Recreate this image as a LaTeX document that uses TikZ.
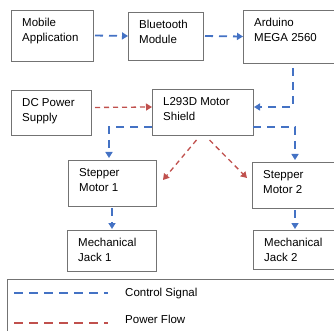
\documentclass[tikz,border=0pt]{standalone}
\usepackage{fontspec}
\setmainfont{Liberation Sans}
\usetikzlibrary{arrows.meta}
\definecolor{ctrlblue}{RGB}{68,114,196}
\definecolor{pwrred}{RGB}{192,80,77}
\tikzset{
	blk/.style = {draw = black!55, line width = 0.8pt, inner sep = 0pt, outer sep = 0pt, anchor = north west},
	txt/.style = {anchor = north west, align = left, inner sep = 0pt, xshift = 11pt, yshift = -8pt, font = \fontsize{11.5}{15}\selectfont},
	lgd/.style = {anchor = west, inner sep = 0pt, font = \fontsize{11.5}{15}\selectfont},
	ctrl/.style = {ctrlblue, line width = 1.8pt, dash pattern = on 8pt off 6pt, -{Triangle[length=6pt,width=7pt]}},
	pwr/.style = {pwrred, line width = 1.3pt, dash pattern = on 5pt off 4pt, -{Triangle[length=6pt,width=7pt]}}
}
\begin{document}
\begin{tikzpicture} [x = 1pt, y = -1pt]
	\clip (0,0) rectangle (334,331);
	% blocks
	\node[blk, minimum width = 82, minimum height = 51, label = {[txt]north west:Mobile\\Application}] (mob) at (11,10) {};
	\node[blk, minimum width = 75, minimum height = 48, label = {[txt]north west:Bluetooth\\Module}] (bt) at (128,12) {};
	\node[blk, minimum width = 100, minimum height = 53, label = {[txt]north west:Arduino\\MEGA 2560}] (ard) at (243,10) {};
	\node[blk, minimum width = 80, minimum height = 45, label = {[txt]north west:DC Power\\Supply}] (dc) at (11,90) {};
	\node[blk, minimum width = 101, minimum height = 46, label = {[txt]north west:L293D Motor\\Shield}] (shield) at (152,89) {};
	\node[blk, minimum width = 88, minimum height = 46, label = {[txt]north west:Stepper\\Motor 1}] (st1) at (68,160) {};
	\node[blk, minimum width = 84, minimum height = 46, label = {[txt]north west:Stepper\\Motor 2}] (st2) at (252,162) {};
	\node[blk, minimum width = 89, minimum height = 41, label = {[txt]north west:Mechanical\\Jack 1}] (jk1) at (67,230) {};
	\node[blk, minimum width = 84, minimum height = 39, label = {[txt]north west:Mechanical\\Jack 2}] (jk2) at (253,230) {};
	% control signal
	\draw[ctrl, shorten < = 2pt] (mob.east) -- (bt.west);
	\draw[ctrl, shorten < = 2pt] (bt.east) -- (ard.west);
	\draw[ctrl, shorten < = 5pt, shorten > = 1pt] (ard.south) |- ([yshift = 5pt]shield.east);
	\draw[ctrl, shorten > = 2pt] ([yshift = -15pt]shield.west) -| ([xshift = -3pt]st1.north);
	\draw[ctrl, shorten > = 2pt] ([yshift = -15pt]shield.east) -| ([xshift = 1pt]st2.north);
	\draw[ctrl, shorten < = 2pt, shorten > = 1pt] (st1.south) -- (st1.south |- jk1.north);
	\draw[ctrl, shorten < = 2pt, shorten > = 1pt] ([xshift = 1pt]st2.south) -- ([xshift = 1pt]st2.south |- jk2.north);
	% power flow
	\draw[pwr, shorten < = 4pt] ([yshift = 5pt]dc.east) -- ([yshift = 5pt]shield.west);
	\draw[pwr] ([xshift = -6pt, yshift = -5pt]shield.south) -- ([xshift = 7pt, yshift = 3pt]st1.east);
	\draw[pwr] ([xshift = 7pt, yshift = -5pt]shield.south) -- ([xshift = -5pt, yshift = 7pt]st2.west);
	% legend
	\draw[draw = black!55, line width = 0.8pt] (7,279) rectangle (345,345);
	\draw[ctrlblue, line width = 1.8pt, dash pattern = on 9pt off 6pt] (14,293) -- (108,293);
	\draw[pwrred, line width = 1.8pt, dash pattern = on 9pt off 6pt] (14,323) -- (108,323);
	\node[lgd] (ctl) at (125,294) {Control Signal};
	\node[lgd] (pf) at (125,319) {Power Flow};
\end{tikzpicture}
\end{document}
